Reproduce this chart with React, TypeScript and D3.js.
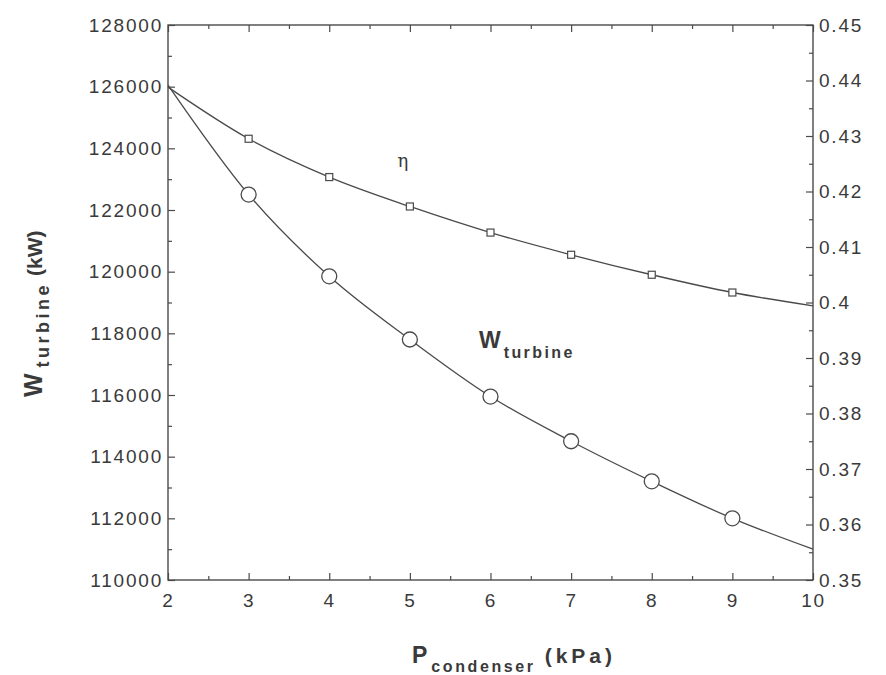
import * as d3 from "d3"
import React, { useEffect, useRef } from "react"

// condenser pressure (kPa)
const pressure = [2, 3, 4, 5, 6, 7, 8, 9, 10]
// turbine work (kW), left axis
const wTurbine = [126050, 122500, 119850, 117800, 115950, 114500, 113200, 112000, 111000]
// efficiency, right axis
const eta = [0.4388, 0.4295, 0.4226, 0.4173, 0.4126, 0.4086, 0.4050, 0.4018, 0.3994]

const xTicks = [2, 3, 4, 5, 6, 7, 8, 9, 10]
const leftTicks = [110000, 112000, 114000, 116000, 118000, 120000, 122000, 124000, 126000, 128000]
const rightTicks = [0.35, 0.36, 0.37, 0.38, 0.39, 0.4, 0.41, 0.42, 0.43, 0.44, 0.45]

export default function App() {
  const ref = useRef<SVGSVGElement>(null)

  useEffect(() => {
    const width = 886
    const height = 675
    const margin = { top: 25, right: 73, bottom: 95, left: 168 }
    const w = width - margin.left - margin.right
    const h = height - margin.top - margin.bottom
    const ink = "#4a4a4a"
    const textInk = "#3a3a3a"

    const svg = d3.select(ref.current)
    svg.selectAll("*").remove()
    const g = svg.append("g").attr("transform", `translate(${margin.left},${margin.top})`)

    const x = d3.scaleLinear().domain([2, 10]).range([0, w])
    const yW = d3.scaleLinear().domain([110000, 128000]).range([h, 0])
    const yE = d3.scaleLinear().domain([0.35, 0.45]).range([h, 0])

    const tickFont = (sel: any) =>
      sel.selectAll("text")
        .attr("font-family", "'Liberation Sans', Arial, sans-serif")
        .attr("font-size", 19)
        .attr("letter-spacing", 1.8)
        .attr("fill", textInk)

    const styleAxis = (sel: any) => {
      sel.select(".domain").remove()
      sel.selectAll("line").attr("stroke", ink).attr("stroke-width", 1.2)
    }

    // minor ticks
    const minorX = d3.range(2.5, 10, 1)
    const minorW = d3.range(111000, 128000, 2000)
    const minorE = d3.range(0.355, 0.45, 0.01)

    g.append("g").attr("transform", `translate(0,${h})`)
      .call(d3.axisBottom(x).tickValues(minorX).tickSize(-4).tickFormat(() => ""))
      .call(styleAxis)
    g.append("g")
      .call(d3.axisTop(x).tickValues(minorX).tickSize(-4).tickFormat(() => ""))
      .call(styleAxis)
    g.append("g")
      .call(d3.axisLeft(yW).tickValues(minorW).tickSize(-4).tickFormat(() => ""))
      .call(styleAxis)
    g.append("g").attr("transform", `translate(${w},0)`)
      .call(d3.axisRight(yE).tickValues(minorE).tickSize(-4).tickFormat(() => ""))
      .call(styleAxis)

    // major ticks
    g.append("g").attr("transform", `translate(0,${h})`)
      .call(d3.axisBottom(x).tickValues(xTicks).tickSize(-7).tickPadding(14).tickFormat(d3.format("d")))
      .call(styleAxis)
      .call(tickFont)
    g.append("g")
      .call(d3.axisTop(x).tickValues(xTicks).tickSize(-7).tickFormat(() => ""))
      .call(styleAxis)
    g.append("g")
      .call(d3.axisLeft(yW).tickValues(leftTicks).tickSize(-7).tickPadding(5).tickFormat(d3.format("d")))
      .call(styleAxis)
      .call(tickFont)
    g.append("g").attr("transform", `translate(${w},0)`)
      .call(d3.axisRight(yE).tickValues(rightTicks).tickSize(-7).tickPadding(6)
        .tickFormat((d: any) => String(+d.toFixed(2))))
      .call(styleAxis)
      .call(tickFont)

    // frame
    g.append("rect")
      .attr("width", w).attr("height", h)
      .attr("fill", "none").attr("stroke", ink).attr("stroke-width", 1.4)

    // series lines
    const lineW = d3.line<number>()
      .x((d, i) => x(pressure[i]))
      .y(d => yW(d))
      .curve(d3.curveMonotoneX)
    const lineE = d3.line<number>()
      .x((d, i) => x(pressure[i]))
      .y(d => yE(d))
      .curve(d3.curveMonotoneX)

    g.append("path").datum(wTurbine)
      .attr("fill", "none").attr("stroke", ink).attr("stroke-width", 1.3)
      .attr("d", lineW)
    g.append("path").datum(eta)
      .attr("fill", "none").attr("stroke", ink).attr("stroke-width", 1.3)
      .attr("d", lineE)

    // markers (interior points only)
    const inner = pressure.map((p, i) => i).filter(i => i > 0 && i < pressure.length - 1)
    g.selectAll(".circ").data(inner).enter().append("circle")
      .attr("cx", i => x(pressure[i]))
      .attr("cy", i => yW(wTurbine[i]))
      .attr("r", 7.5)
      .attr("fill", "#fff").attr("stroke", ink).attr("stroke-width", 1.3)
    g.selectAll(".sq").data(inner).enter().append("rect")
      .attr("x", i => x(pressure[i]) - 3.5)
      .attr("y", i => yE(eta[i]) - 3.5)
      .attr("width", 7).attr("height", 7)
      .attr("fill", "#fff").attr("stroke", ink).attr("stroke-width", 1.2)

    // annotations
    svg.append("text")
      .attr("x", 403).attr("y", 167)
      .attr("text-anchor", "middle")
      .attr("font-family", "'DejaVu Serif', serif")
      .attr("font-size", 18)
      .attr("fill", textInk)
      .text("η")

    const wLab = svg.append("text")
      .attr("x", 479).attr("y", 348)
      .attr("font-family", "'Liberation Sans', Arial, sans-serif")
      .attr("font-weight", "bold")
      .attr("fill", textInk)
    wLab.append("tspan").attr("font-size", 23).attr("letter-spacing", 1).text("W")
    wLab.append("tspan").attr("font-size", 16).attr("dy", 10).attr("dx", 2)
      .attr("letter-spacing", 2.4).text("turbine")

    // axis titles
    const yTitle = svg.append("text")
      .attr("transform", "translate(42,397) rotate(-90)")
      .attr("font-family", "'Liberation Sans', Arial, sans-serif")
      .attr("font-weight", "bold")
      .attr("fill", textInk)
    yTitle.append("tspan").attr("font-size", 25).text("W")
    yTitle.append("tspan").attr("font-size", 18).attr("dy", 7).attr("dx", 6)
      .attr("letter-spacing", 3.5).text("turbine")
    yTitle.append("tspan").attr("font-size", 21).attr("dy", -7).attr("dx", 6)
      .attr("letter-spacing", 0).text("(kW)")

    const xTitle = svg.append("text")
      .attr("x", 412).attr("y", 663)
      .attr("font-family", "'Liberation Sans', Arial, sans-serif")
      .attr("font-weight", "bold")
      .attr("fill", textInk)
    xTitle.append("tspan").attr("font-size", 23).attr("letter-spacing", 1).text("P")
    xTitle.append("tspan").attr("font-size", 16).attr("dy", 9).attr("dx", 3)
      .attr("letter-spacing", 2.6).text("condenser")
    xTitle.append("tspan").attr("font-size", 21).attr("dy", -9).attr("dx", 9)
      .attr("letter-spacing", 4).text("(kPa)")
  }, [])

  return (
    <svg
      ref={ref}
      width={886}
      height={675}
      style={{ position: "absolute", left: 0, top: 0, background: "#fff", display: "block" }}
    />
  )
}
